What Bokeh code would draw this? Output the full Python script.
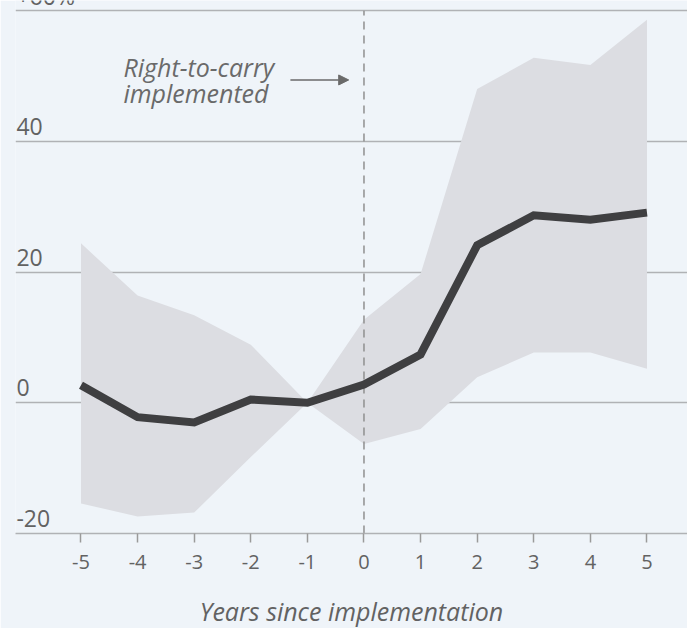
from bokeh.plotting import figure
from bokeh.models import Range1d, FixedTicker, Arrow, NormalHead, ColumnDataSource
from bokeh.core.properties import value
from bokeh.embed import file_html
from bokeh.resources import INLINE

# ---- data ----
years = [-5, -4, -3, -2, -1, 0, 1, 2, 3, 4, 5]
estimate = [2.7, -2.2, -3.0, 0.5, 0.0, 2.8, 7.4, 24.1, 28.7, 28.0, 29.1]
upper = [24.4, 16.4, 13.4, 8.9, 0.0, 12.7, 19.7, 48.0, 52.8, 51.7, 58.6]
lower = [-15.4, -17.4, -16.8, -8.3, 0.0, -6.3, -4.0, 3.9, 7.7, 7.7, 5.2]
y_ticks = [-20, 0, 20, 40, 60]
y_tick_labels = ["-20", "0", "20", "40", "+60%"]
x_ticks = years
x_tick_labels = ["-5", "-4", "-3", "-2", "-1", "0", "1", "2", "3", "4", "5"]
annotation_lines = ["Right-to-carry", "implemented"]
x_title = "Years since implementation"

BG = "#eff4f9"
TXT = "#626262"
FONT = "Open Sans"

p = figure(frame_width=672, frame_height=533, output_backend="svg", toolbar_location=None,
           x_range=Range1d(-6.157, 5.716), y_range=Range1d(-20, 61.56),
           min_border_left=15, min_border_right=0, min_border_top=0, min_border_bottom=95)
p.background_fill_color = BG
p.border_fill_color = BG
p.outline_line_color = None

# grid
p.xgrid.visible = False
p.ygrid.ticker = FixedTicker(ticks=y_ticks)
p.ygrid.grid_line_color = "#b0b2b5"
p.ygrid.grid_line_width = 1.5
p.yaxis.visible = False

# x axis
p.xaxis.ticker = FixedTicker(ticks=x_ticks)
p.xaxis.major_label_overrides = {t: s for t, s in zip(x_ticks, x_tick_labels)}
p.xaxis.axis_line_color = "#b0b2b5"
p.xaxis.axis_line_width = 1.5
p.xaxis.major_tick_line_color = "#9a9a9a"
p.xaxis.major_tick_line_width = 1.5
p.xaxis.major_tick_in = 0
p.xaxis.major_tick_out = 9
p.xaxis.minor_tick_line_color = None
p.xaxis.major_label_text_font = FONT
p.xaxis.major_label_text_font_size = "20px"
p.xaxis.major_label_text_color = TXT
p.xaxis.major_label_standoff = 12
p.xaxis.axis_label = x_title
p.xaxis.axis_label_text_font = FONT
p.xaxis.axis_label_text_font_size = "25px"
p.xaxis.axis_label_text_font_style = "italic"
p.xaxis.axis_label_text_color = TXT
p.xaxis.axis_label_standoff = 22

# confidence band
p.varea(x=years, y1=lower, y2=upper, fill_color="#dcdde2", fill_alpha=1.0)

# implementation marker
p.segment(x0=[0], y0=[-20], x1=[0], y1=[60], line_color="#8f8f8f", line_width=1.5,
          line_dash="8 6")

# main line
p.line(years, estimate, line_color="#3f3f41", line_width=8, line_join="miter")

# y tick labels (above gridlines, left aligned)
src = ColumnDataSource(dict(x=[-6.14] * len(y_ticks), y=y_ticks, t=y_tick_labels))
p.text(x="x", y="y", text="t", source=src, text_font=value(FONT), text_font_size="23px",
       text_color=TXT, text_align="left", text_baseline="alphabetic", y_offset=-15)

# annotation
ann = ColumnDataSource(dict(x=[-4.25, -4.25], y=[51.4, 47.4], t=annotation_lines))
p.text(x="x", y="y", text="t", source=ann, text_font=value(FONT), text_font_size="25px",
       text_font_style="italic", text_color="#6a6a6a", text_align="left",
       text_baseline="middle")
p.add_layout(Arrow(end=NormalHead(size=10, fill_color="#6a6a6a", line_color="#6a6a6a"),
                   x_start=-1.30, y_start=49.4, x_end=-0.27, y_end=49.4,
                   line_color="#6a6a6a", line_width=1.5))

open("out.html", "w").write(file_html(p, INLINE))
